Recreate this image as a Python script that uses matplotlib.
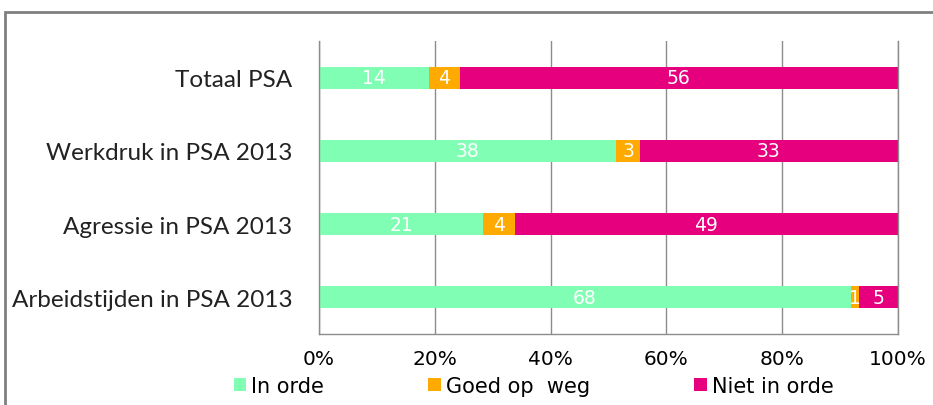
import numpy as np
import matplotlib.pyplot as plt
from matplotlib.patches import Rectangle

categories = ['Totaal PSA', 'Werkdruk in PSA 2013', 'Agressie in PSA 2013', 'Arbeidstijden in PSA 2013']
in_orde = [14, 38, 21, 68]
goed_op_weg = [4, 3, 4, 1]
niet_in_orde = [56, 33, 49, 5]
series_names = ['In orde', 'Goed op  weg', 'Niet in orde']
colors = ['#80FFB4', '#FFAA00', '#E6007E']

fig = plt.figure(figsize=(9.33, 4.06), dpi=100)
ax = fig.add_axes([319 / 933, 1 - 335 / 406, (898 - 319) / 933, (335 - 42) / 406])

data = np.array([in_orde, goed_op_weg, niet_in_orde], dtype=float)
totals = data.sum(axis=0)
shares = data / totals
y = np.arange(len(categories))
left = np.zeros(len(categories))
handles = []
for i, name in enumerate(series_names):
    h = ax.barh(y, shares[i], left=left, height=0.3, color=colors[i], label=name)
    handles.append(h)
    for j in range(len(categories)):
        ax.text(left[j] + shares[i][j] / 2, y[j], str(int(data[i][j])),
                ha='center', va='center', color='white', fontsize=13.5, family='DejaVu Sans')
    left += shares[i]

ax.set_ylim(len(categories) - 0.5, -0.5)
ax.set_xlim(0, 1)
ax.set_xticks(np.linspace(0, 1, 6))
ax.set_xticklabels(['0%', '20%', '40%', '60%', '80%', '100%'], fontsize=14.5, family='DejaVu Sans')
ax.set_yticks(y)
ax.set_yticklabels(categories, fontsize=17.5, family='Lato', color='#222222')
ax.tick_params(axis='y', length=0, pad=19)
ax.tick_params(axis='x', length=0, pad=11)
ax.grid(axis='x', color='#8c8c8c', linewidth=1)
ax.set_axisbelow(True)
ax.spines['top'].set_visible(False)
for side in ['left', 'bottom', 'right']:
    ax.spines[side].set_color('#8c8c8c')
    ax.spines[side].set_linewidth(1)

fig.legend(handles=handles, labels=series_names, loc='center', bbox_to_anchor=(0.572, 1 - 387 / 406),
           ncol=3, frameon=False, prop={'family': 'DejaVu Sans', 'size': 15},
           handlelength=0.6, handleheight=0.6, handletextpad=0.25, columnspacing=5.0)

fig.patches.append(Rectangle((5 / 933, -0.1), 1.2, 1 - 13 / 406 + 0.1, transform=fig.transFigure,
                             fill=False, edgecolor='#808080', linewidth=2))

fig.savefig('out.png', dpi=100)
